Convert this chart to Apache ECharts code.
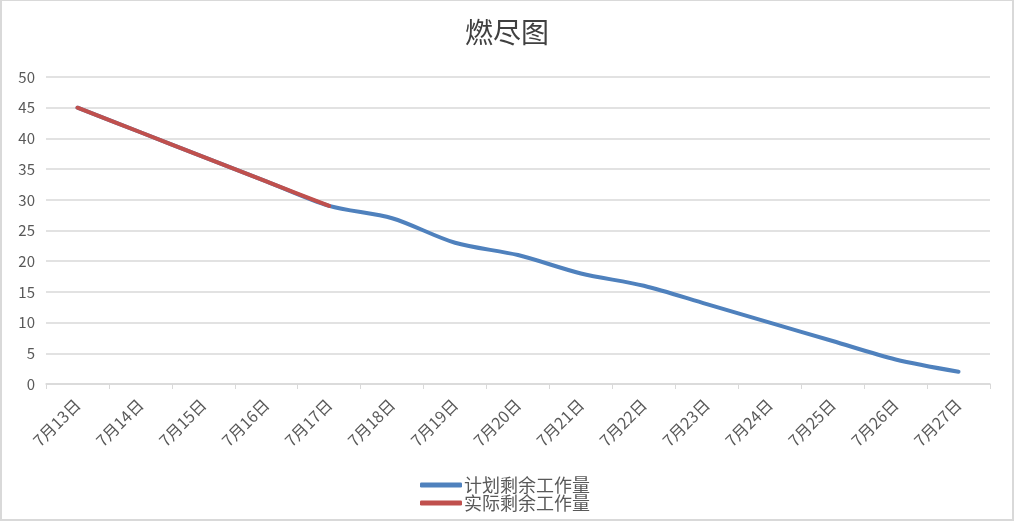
<!DOCTYPE html>
<html>
<head>
<meta charset="utf-8">
<script src="https://cdn.jsdelivr.net/npm/echarts@6/dist/echarts.min.js"></script>
<style>
html, body { margin: 0; padding: 0; background: #fff; }
#chart { width: 1014px; height: 521px; box-sizing: border-box; border: 2px solid #d9d9d9; border-top-width: 1px; }
</style>
</head>
<body>
<div id="chart"></div>
<script>
// 日期
var days = ['7月13日', '7月14日', '7月15日', '7月16日', '7月17日', '7月18日', '7月19日', '7月20日',
    '7月21日', '7月22日', '7月23日', '7月24日', '7月25日', '7月26日', '7月27日'];
// 计划剩余工作量
var planLeft = [45, 41, 37, 33, 29, 27, 23, 21, 18, 16, 13, 10, 7, 4, 2];
// 实际剩余工作量
var actualLeft = [45, 41, 37, 33, 29];
var yTicks = { min: 0, max: 50, step: 5 };

var chart = echarts.init(document.getElementById('chart'));
var font = '"Noto Sans CJK SC", "Open Sans", sans-serif';

var option = {
    animation: false,
    textStyle: { fontFamily: font },
    title: {
        text: '燃尽图',
        left: 'center',
        top: 12,
        textStyle: {
            fontFamily: font,
            fontSize: 28,
            fontWeight: 'normal',
            color: '#404040'
        }
    },
    legend: {
        orient: 'vertical',
        left: 413,
        top: 470,
        itemGap: 0,
        itemWidth: 42,
        itemHeight: 5,
        icon: 'roundRect',
        textStyle: {
            fontFamily: font,
            fontSize: 18,
            lineHeight: 16,
            color: '#595959',
            padding: [0, 0, 0, -3]
        },
        data: ['计划剩余工作量', '实际剩余工作量']
    },
    grid: {
        left: 44,
        right: 22,
        top: 76,
        bottom: 135,
        containLabel: false
    },
    xAxis: {
        type: 'category',
        data: days,
        boundaryGap: true,
        axisLine: { lineStyle: { color: '#d9d9d9', width: 1.5 } },
        axisTick: { show: true, length: 5, lineStyle: { color: '#d9d9d9' } },
        axisLabel: {
            rotate: 45,
            interval: 0,
            margin: 18,
            fontSize: 16,
            color: '#595959',
            fontFamily: font
        }
    },
    yAxis: {
        type: 'value',
        min: yTicks.min,
        max: yTicks.max,
        interval: yTicks.step,
        axisLine: { show: false },
        axisTick: { show: false },
        axisLabel: {
            margin: 11,
            fontSize: 15,
            color: '#595959',
            fontFamily: font
        },
        splitLine: { lineStyle: { color: '#d9d9d9', width: 1.5 } }
    },
    series: [
        {
            name: '计划剩余工作量',
            type: 'line',
            data: planLeft,
            smooth: 0.3,
            showSymbol: false,
            symbol: 'none',
            itemStyle: { color: '#4f81bd' },
            lineStyle: { color: '#4f81bd', width: 4, cap: 'round' },
            z: 2
        },
        {
            name: '实际剩余工作量',
            type: 'line',
            data: actualLeft,
            smooth: 0.3,
            showSymbol: false,
            symbol: 'none',
            itemStyle: { color: '#c0504d' },
            lineStyle: { color: '#c0504d', width: 4, cap: 'round' },
            z: 3
        }
    ]
};
chart.setOption(option);
</script>
</body>
</html>
